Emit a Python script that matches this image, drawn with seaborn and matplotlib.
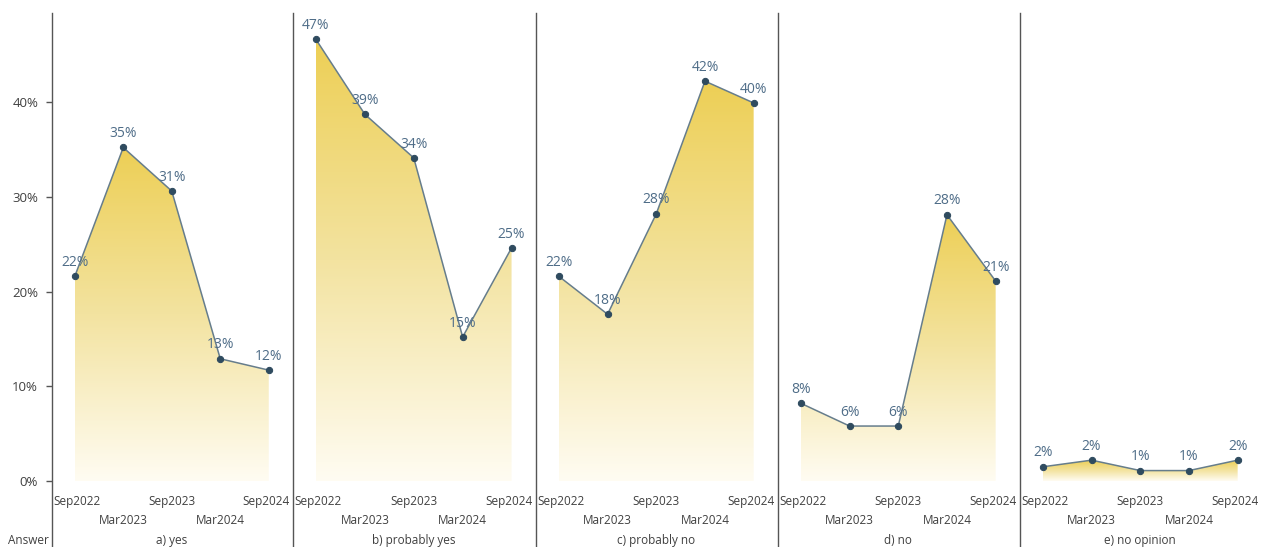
import numpy as np
import pandas as pd
import matplotlib
matplotlib.use("Agg")
import matplotlib.pyplot as plt
import seaborn as sns
from matplotlib.colors import LinearSegmentedColormap
from matplotlib.patches import Polygon

# Survey waves and answer categories
waves = ["Sep2022", "Mar2023", "Sep2023", "Mar2024", "Sep2024"]
answers = ["a) yes", "b) probably yes", "c) probably no", "d) no", "e) no opinion"]

# Share of respondents (%) per answer and wave
yes = [21.6, 35.2, 30.6, 12.9, 11.7]
probably_yes = [46.6, 38.7, 34.1, 15.2, 24.6]
probably_no = [21.6, 17.6, 28.2, 42.2, 39.9]
no = [8.2, 5.8, 5.8, 28.1, 21.1]
no_opinion = [1.5, 2.2, 1.1, 1.1, 2.2]

y_ticks = [0, 10, 20, 30, 40]

series = [yes, probably_yes, probably_no, no, no_opinion]
df = pd.DataFrame({
    "answer": np.repeat(answers, len(waves)),
    "wave": waves * len(answers),
    "pos": list(range(len(waves))) * len(answers),
    "share": np.concatenate(series),
})

sns.set_theme(style="white")
plt.rcParams["font.family"] = ["Open Sans", "DejaVu Sans"]

W, H = 1270, 547
fig = plt.figure(figsize=(W / 100, H / 100), dpi=100)

lefts = [52, 293, 536, 778, 1020]
right_edge = 1262
top_px, zero_px, px_per_pct = 13, 481, 9.475
ylim = (-(H - zero_px) / px_per_pct, (zero_px - top_px) / px_per_pct)

grad_cmap = LinearSegmentedColormap.from_list("gold", ["#FFFCF2", "#F3E3A0", "#EDCF55"])
line_col = "#667D8C"
dot_col = "#2F4B5F"
label_col = "#4F6D88"
text_col = "#404040"
axis_col = "#555555"

for i, ans in enumerate(answers):
    x0 = lefts[i]
    x1 = lefts[i + 1] if i + 1 < len(lefts) else right_edge
    ax = fig.add_axes([x0 / W, 0, (x1 - x0) / W, (H - top_px) / H])
    sub = df[df["answer"] == ans]

    # gradient area under the line, scaled to the panel's peak
    ymax = sub["share"].max()
    grad = np.linspace(0, 1, 256).reshape(-1, 1)
    im = ax.imshow(grad, cmap=grad_cmap, origin="lower", aspect="auto",
                   extent=(0, len(waves) - 1, 0, ymax), zorder=1)
    verts = [(0, 0)] + list(zip(sub["pos"], sub["share"])) + [(len(waves) - 1, 0)]
    poly = Polygon(verts, closed=True, facecolor="none", edgecolor="none")
    ax.add_patch(poly)
    im.set_clip_path(poly)

    sns.lineplot(data=sub, x="pos", y="share", ax=ax, color=line_col, lw=1.1,
                 marker="o", markersize=4.5, markerfacecolor=dot_col,
                 markeredgecolor=dot_col, zorder=3)

    for p, v in zip(sub["pos"], sub["share"]):
        ax.annotate(f"{v:.0f}%", (p, v), xytext=(0, 10), textcoords="offset points",
                    ha="center", va="center", fontsize=10, color=label_col, zorder=4)

    # staggered wave labels under the zero line, end labels nudged inward
    last = len(waves) - 1
    for p, w in enumerate(waves):
        off = -14.5 if p % 2 == 0 else -28.5
        dx = 1.8 if p == 0 else (-1.8 if p == last else 0)
        ax.annotate(w, (p, 0), xytext=(dx, off), textcoords="offset points",
                    ha="center", va="center", fontsize=8.5, color=text_col,
                    annotation_clip=False)
    ax.annotate(ans, (last / 2, 0), xytext=(0, -42.5),
                textcoords="offset points", ha="center", va="center",
                fontsize=8.5, color=text_col, annotation_clip=False)

    ax.set_xlim(-0.47, len(waves) - 0.5)
    ax.set_ylim(*ylim)
    ax.set_xlabel("")
    ax.set_ylabel("")
    ax.set_xticks([])
    for s in ["top", "right", "bottom"]:
        ax.spines[s].set_visible(False)
    ax.spines["left"].set_color(axis_col)
    ax.spines["left"].set_linewidth(1.0)
    ax.patch.set_alpha(0)

    if i == 0:
        ax.set_yticks(y_ticks)
        ax.set_yticklabels([f"{t}%" for t in y_ticks])
        ax.tick_params(axis="y", left=True, length=4, width=1, color=axis_col,
                       labelsize=9.5, labelcolor=text_col, pad=6)
    else:
        ax.set_yticks([])

fig.text(28 / W, 1 - 540 / H, "Answer", ha="center", va="center",
         fontsize=8.5, color=text_col)

fig.savefig("out.png", dpi=100)
